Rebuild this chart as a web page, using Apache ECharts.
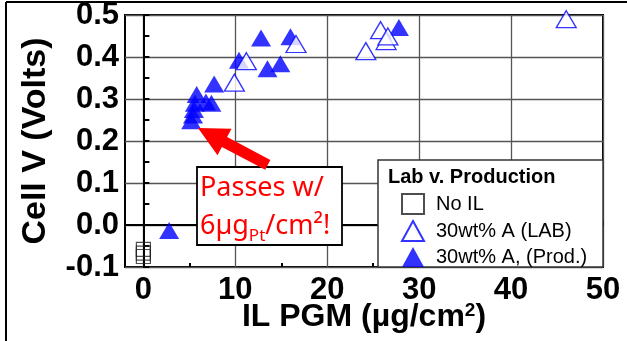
<!DOCTYPE html>
<html><head><meta charset="utf-8">
<script src="https://cdn.jsdelivr.net/npm/echarts@6/dist/echarts.min.js"></script>
<style>html,body{margin:0;padding:0;background:#fff}#c{width:627px;height:341px}</style>
</head><body><div id="c"></div>
<script>
// ---- data ----
const xTicks = [0, 10, 20, 30, 40, 50];
const xMinorTicks = [5, 15, 25, 35, 45];
const seriesNames = ['No IL', '30wt% A (LAB)', '30wt% A, (Prod.)'];
const noIL_x = [0, 0, 0];
const noIL_y = [-0.058, -0.067, -0.075];
const lab_x = [9.9, 11.2, 16.6, 24.2, 25.8, 26.4, 26.6, 46.0];
const lab_y = [0.339, 0.390, 0.431, 0.414, 0.464, 0.438, 0.449, 0.490];
const prod_x = [2.8, 5.2, 5.4, 5.5, 5.6, 5.8, 6.8, 7.4, 7.7, 10.4, 12.8, 13.5, 14.9, 16.0, 27.8];
const prod_y = [-0.013, 0.248, 0.262, 0.275, 0.290, 0.311, 0.293, 0.290, 0.336, 0.392, 0.445, 0.372, 0.384, 0.448, 0.470];

const pair = (xs, ys) => xs.map((x, i) => [x, ys[i]]);
const F = 'Liberation Sans, Arial, sans-serif';

const chart = echarts.init(document.getElementById('c'), null, {renderer: 'canvas'});
chart.setOption({
  animation: false,
  backgroundColor: '#fff',
  grid: {left: 125, top: 15, right: 24, bottom: 74, containLabel: false, outerBoundsMode: 'none',
         show: true, borderColor: '#000', borderWidth: 2, backgroundColor: 'transparent'},
  xAxis: [{
    type: 'value', min: -2, max: 50,
    axisLine: {show: true, lineStyle: {color: '#000', width: 2}},
    axisTick: {show: true, inside: true, length: 5, customValues: xTicks, lineStyle: {color: '#000', width: 2}},
    axisLabel: {customValues: xTicks, fontFamily: F, fontWeight: 'bold', fontSize: 31, color: '#000', margin: 8},
    splitLine: {show: true, lineStyle: {color: '#555', width: 1.3}},
    name: '{a|IL PGM (µg/cm}{s|2}{a|)}',
    nameLocation: 'middle', nameGap: 34, nameMoveOverlap: false,
    nameTextStyle: {rich: {
      a: {fontFamily: F, fontWeight: 'bold', fontSize: 32, color: '#000'},
      s: {fontFamily: F, fontWeight: 'bold', fontSize: 19, color: '#000', verticalAlign: 'top'}
    }}
  }, {
    type: 'value', min: -2, max: 50, position: 'bottom',
    axisLine: {show: false},
    axisTick: {show: true, inside: true, length: 4, customValues: xMinorTicks, lineStyle: {color: '#000', width: 2}},
    axisLabel: {show: false},
    splitLine: {show: false}
  }],
  yAxis: {
    type: 'value', min: -0.1, max: 0.5, interval: 0.1,
    axisLine: {show: true, lineStyle: {color: '#000', width: 2}},
    axisTick: {show: true, inside: true, length: 6, lineStyle: {color: '#000', width: 2}},
    minorTick: {show: true, splitNumber: 2, length: 6, lineStyle: {color: '#000', width: 2}},
    axisLabel: {formatter: v => v.toFixed(1), fontFamily: F, fontWeight: 'bold', fontSize: 31, color: '#000', margin: 6},
    splitLine: {show: true, lineStyle: {color: '#555', width: 1.3}},
    name: 'Cell V (Volts)', nameLocation: 'middle', nameGap: 72, nameMoveOverlap: false,
    nameTextStyle: {fontFamily: F, fontWeight: 'bold', fontSize: 34, color: '#000'}
  },
  legend: {
    data: seriesNames, orient: 'vertical', left: 401, top: 193, z: 10, padding: 0,
    itemWidth: 22, itemHeight: 20, itemGap: 5, selectedMode: false,
    textStyle: {fontFamily: F, fontSize: 20, lineHeight: 20, color: '#000', padding: [0, 0, 0, 7]}
  },
  series: [
    {name: seriesNames[0], type: 'scatter', data: pair(noIL_x, noIL_y), symbol: 'rect', symbolSize: 14,
     itemStyle: {color: 'rgba(255,255,255,0)', borderColor: '#222', borderWidth: 1.2}, emphasis: {disabled: true}},
    {name: seriesNames[2], type: 'scatter', data: pair(prod_x, prod_y), symbol: 'triangle', symbolSize: [20, 17],
     itemStyle: {color: '#0000ff'}, emphasis: {disabled: true}},
    {name: seriesNames[1], type: 'scatter', data: pair(lab_x, lab_y), symbol: 'triangle', symbolSize: [20, 17],
     itemStyle: {color: '#ffffff', borderColor: '#0000ff', borderWidth: 1.3}, emphasis: {disabled: true}}
  ],
  graphic: [
    {type: 'line', shape: {x1: 6, y1: 2, x2: 627, y2: 2}, style: {stroke: '#000', lineWidth: 2}, z: 20},
    {type: 'line', shape: {x1: 6, y1: 2, x2: 6, y2: 341}, style: {stroke: '#000', lineWidth: 2}, z: 20},
    // legend box
    {type: 'rect', shape: {x: 378, y: 160, width: 225, height: 107}, style: {fill: '#fff', stroke: '#333', lineWidth: 1.5}, z: 5},
    {type: 'text', x: 388, y: 177, style: {text: 'Lab v. Production', font: 'bold 20px ' + F, fill: '#000', textVerticalAlign: 'middle'}, z: 10},
    // arrow
    {type: 'polygon', shape: {points: [[198, 128], [231.5, 128.7], [227.1, 137.1], [270.4, 160], [265.2, 169.8], [221.9, 146.9], [217.5, 155.3]]},
     style: {fill: '#ff0000'}, z: 6},
    // annotation box
    {type: 'rect', shape: {x: 197, y: 167, width: 145, height: 78}, style: {fill: '#fff', stroke: '#000', lineWidth: 1.8}, z: 5},
    {type: 'text', x: 200, y: 169, z: 10,
     style: {
       text: '{a|Passes w/}\n{a|6µg}{b|Pt}{a|/cm²!}',
       rich: {
         a: {fontFamily: 'Noto Sans', fontSize: 27, fill: '#ff0000', color: '#ff0000', lineHeight: 38},
         b: {fontFamily: 'Noto Sans', fontSize: 17, fill: '#ff0000', color: '#ff0000', lineHeight: 38, verticalAlign: 'bottom', padding: [10, 0, 0, 0]}
       }
     }}
  ]
});
</script></body></html>
